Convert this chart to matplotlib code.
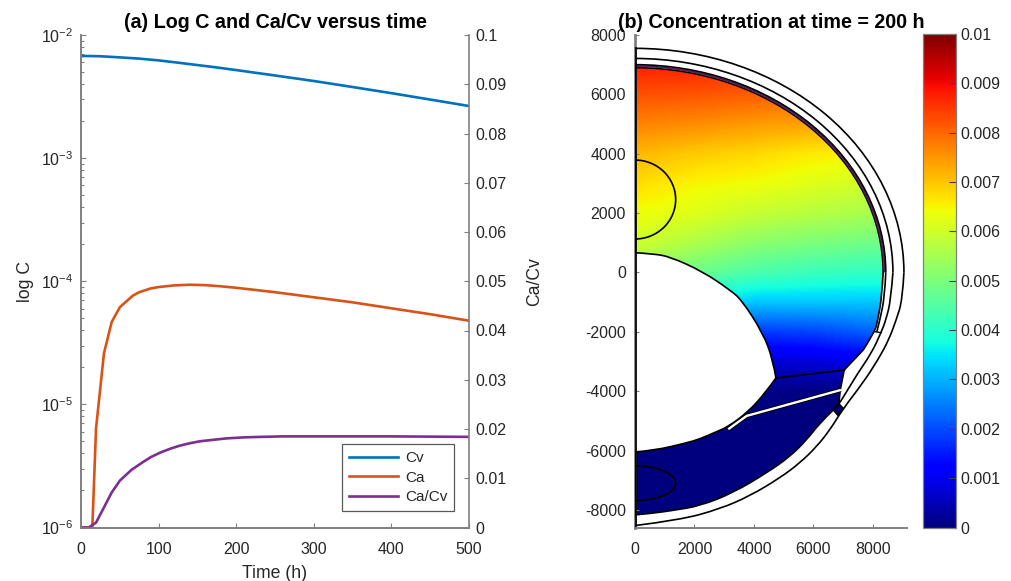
"""Two panel figure: log C and Ca/Cv versus time, concentration map at 200 h."""

import matplotlib
matplotlib.use('Agg')
import matplotlib.pyplot as plt
import numpy as np
from matplotlib.cm import ScalarMappable
from matplotlib.colors import Normalize
from matplotlib.patches import Arc, Ellipse, PathPatch, Polygon
from matplotlib.path import Path
from matplotlib.transforms import Affine2D

plt.rcParams['font.family'] = ['Liberation Sans', 'DejaVu Sans']
plt.rcParams['mathtext.default'] = 'regular'
plt.rcParams['axes.unicode_minus'] = False

# Panel (a) curves
CV_T = [0, 12, 25, 50, 75, 100, 125, 150, 175, 200, 250, 300, 350, 400, 450, 500]
CV = [0.00675, 0.00675, 0.00672, 0.00658, 0.00643, 0.00622, 0.00596, 0.00570,
      0.00545, 0.00519, 0.00469, 0.00423, 0.00378, 0.00337, 0.00299, 0.00265]
CA_T = [0, 14.6, 19.4, 29.6, 39.5, 50, 60, 67, 75, 90, 100, 120, 140, 160, 180,
        200, 250, 300, 350, 400, 450, 500]
CA = [1e-6, 1e-6, 6.4e-6, 2.6e-5, 4.66e-5, 6.15e-5, 7.0e-5, 7.65e-5, 8.15e-5,
      8.75e-5, 8.97e-5, 9.25e-5, 9.37e-5, 9.3e-5, 9.1e-5, 8.85e-5, 8.15e-5,
      7.41e-5, 6.74e-5, 6.03e-5, 5.4e-5, 4.78e-5]
RATIO_T = [0, 10, 19.4, 30, 39.5, 50, 65, 80, 90, 102, 115, 127, 140, 153, 170,
           188, 210, 231, 260, 300, 400, 500]
RATIO = [0, 0, 0.001, 0.0042, 0.0071, 0.0095, 0.0117, 0.0133, 0.0143, 0.0152,
         0.0160, 0.0166, 0.0171, 0.0175, 0.0178, 0.0181, 0.0183, 0.0184, 0.0185,
         0.0185, 0.0185, 0.0184]

TIME_TICKS = [0, 100, 200, 300, 400, 500]
RATIO_TICKS = [0, 0.01, 0.02, 0.03, 0.04, 0.05, 0.06, 0.07, 0.08, 0.09, 0.1]
RATIO_LABELS = ['0', '0.01', '0.02', '0.03', '0.04', '0.05', '0.06', '0.07',
                '0.08', '0.09', '0.1']

# Panel (b) concentration samples, 1e-3 units. Rows run from y=8000 down in
# steps of 1000, columns are x = 0, 2000, 4000, 6000, 8000.
FIELD = [
    [9.2, 9.2, 9.1, 9.1, 9.0],
    [8.75, 8.75, 8.65, 8.6, 8.5],
    [8.25, 8.2, 8.1, 8.0, 7.9],
    [7.7, 7.6, 7.45, 7.35, 7.25],
    [7.15, 6.95, 6.8, 6.6, 6.5],
    [6.75, 6.5, 6.4, 6.2, 6.0],
    [6.4, 6.2, 5.9, 5.7, 5.55],
    [6.0, 5.6, 5.2, 5.0, 4.85],
    [5.3, 4.8, 4.4, 4.2, 4.1],
    [4.2, 3.6, 3.2, 3.2, 3.2],
    [3.0, 2.3, 1.8, 1.9, 2.2],
    [1.5, 1.0, 0.7, 0.8, 1.0],
    [0.1, 0.1, 0.08, 0.05, 0.0],
    [0.0, 0.0, 0.0, 0.0, 0.0],
    [0.0, 0.0, 0.0, 0.0, 0.0],
    [0.0, 0.0, 0.0, 0.0, 0.0],
    [0.0, 0.0, 0.0, 0.0, 0.0],
    [0.0, 0.0, 0.0, 0.0, 0.0],
]
MAP_X_TICKS = [0, 2000, 4000, 6000, 8000]
MAP_Y_TICKS = [-8000, -6000, -4000, -2000, 0, 2000, 4000, 6000, 8000]
BAR_TICKS = [0, 0.001, 0.002, 0.003, 0.004, 0.005, 0.006, 0.007, 0.008, 0.009, 0.01]
BAR_LABELS = ['0', '0.001', '0.002', '0.003', '0.004', '0.005', '0.006',
              '0.007', '0.008', '0.009', '0.01']

# Geometry of the model, in map units
OUTER_RADII = (9040, 7550)
SECOND_RADII = (8670, 7210)
BAND_RADII = (8430, 7000)
FILL_RADII = (8340, 6900)

OUTER_LOW_X = [9040, 8990, 8780, 8530, 8165, 7661, 6989, 6552, 6105, 5544,
               4872, 3864, 2856, 1512, 0]
OUTER_LOW_Y = [0, -926, -1600, -2273, -2946, -3720, -4596, -5303, -5865, -6414,
               -6919, -7525, -7963, -8337, -8525]
SECOND_LOW_X = [8670, 8600, 8434, 8270, 7953, 7493, 6945, 6854]
SECOND_LOW_Y = [0, -926, -1600, -2027, -2710, -3384, -4293, -4428]
CAVITY_TOP_X = [0, 600, 1176, 2285, 3192, 3585, 4301, 4637, 4737]
CAVITY_TOP_Y = [667, 630, 532, 27, -589, -926, -2040, -2946, -3555]
CAVITY_LOW_X = [4737, 4368, 3807, 3135, 2745, 2184, 1737, 615, 0]
CAVITY_LOW_Y = [-3555, -4068, -4688, -5192, -5360, -5606, -5741, -6000, -6044]
FILL_LOW_X = [0, 605, 1300, 2184, 3293, 4425, 5208, 5769, 6216, 6609]
FILL_LOW_Y = [-8165, -8110, -8010, -7862, -7424, -6751, -6202, -5640, -5067, -4687]
NOTCH_X = [6664, 6864, 6999, 6810]
NOTCH_Y = [-4630, -4439, -4574, -4798]
WEDGE_X = [6854, 6900, 7033, 7672, 8064, 8160, 8300, 8340]
WEDGE_Y = [-4404, -3950, -3284, -2609, -1993, -1600, -800, 0]
BAND_LOW_X = [8430, 8395, 8232, 8130]
BAND_LOW_Y = [0, -800, -1600, -1993]
DIVIDER_X = [4737, 7033]
DIVIDER_Y = [-3555, -3284]
SLIT_X = [3135, 3753, 6922]
SLIT_Y = [-5279, -4831, -3956]
CAP_X = [8064, 8270]
CAP_Y = [-1993, -2027]
UPPER_SPOT = (0, 2458, 1367, 1330)
LOWER_SPOT = (0, -7099, 1367, 584)

SPINE = '#808080'
TEXT = '#262626'
BLACK = '#000000'


def px_rect(left, top, right, bottom):
    """Axes rectangle from pixel edges of the 1011x581 figure."""
    return [left / 1011, 1 - bottom / 581, (right - left) / 1011, (bottom - top) / 581]


def style_axis(ax, length=3.6):
    ax.tick_params(which='both', direction='in', colors=SPINE, labelcolor=TEXT,
                   labelsize=11.5, width=0.8, length=length)
    for spine in ax.spines.values():
        spine.set_color(SPINE)
        spine.set_linewidth(1.2)


def upper_arc(ax, radii, color=BLACK, lw=1.2):
    ax.add_patch(Arc((0, 0), 2 * radii[0], 2 * radii[1], theta1=0, theta2=90,
                     color=color, lw=lw, zorder=4))


def smooth_segment(xs, ys):
    """Quadratic Bezier pieces with the listed points as control points."""
    pts = np.column_stack([xs, ys]).astype(float)
    verts = [pts[0]]
    codes = [Path.LINETO]
    for i in range(1, len(pts) - 1):
        end = pts[-1] if i == len(pts) - 2 else (pts[i] + pts[i + 1]) / 2
        verts += [pts[i], end]
        codes += [Path.CURVE3, Path.CURVE3]
    return verts, codes


def smooth_line(ax, xs, ys, lw=1.2):
    verts, codes = smooth_segment(xs, ys)
    codes[0] = Path.MOVETO
    ax.add_patch(PathPatch(Path(verts, codes), fc='none', ec=BLACK, lw=lw, zorder=4))


def fill_path():
    arc = Path.arc(0, 90).transformed(Affine2D().scale(*FILL_RADII))
    verts = list(arc.vertices)
    codes = list(arc.codes)
    pieces = [(CAVITY_TOP_X, CAVITY_TOP_Y), (CAVITY_LOW_X, CAVITY_LOW_Y),
              (FILL_LOW_X, FILL_LOW_Y)]
    for xs, ys in pieces:
        piece_verts, piece_codes = smooth_segment(xs, ys)
        verts += piece_verts
        codes += piece_codes
    verts += list(np.column_stack([WEDGE_X[:3], WEDGE_Y[:3]]).astype(float))
    codes += [Path.LINETO] * 3
    piece_verts, piece_codes = smooth_segment(WEDGE_X[3:], WEDGE_Y[3:])
    verts += piece_verts
    codes += piece_codes
    return Path(verts, codes)


def plot_time_panel(fig):
    ax = fig.add_axes(px_rect(81, 35, 469, 527.5))
    ax.semilogy(CV_T, CV, color='#0072BD', lw=1.9, label='Cv')
    ax.semilogy(CA_T, CA, color='#D95319', lw=1.9, label='Ca')
    ax.set_xlim(0, 500)
    ax.set_ylim(1e-6, 1e-2)
    ax.set_xticks(TIME_TICKS)
    ax.set_xlabel('Time (h)', fontsize=12.7, color=TEXT, labelpad=6)
    ax.set_ylabel('log C', fontsize=12.7, color=TEXT, labelpad=5)
    ax.set_title('(a) Log C and Ca/Cv versus time', fontsize=14.2,
                 fontweight='bold', color=BLACK, pad=5)
    style_axis(ax)
    ax.tick_params(axis='x', pad=10.5)
    ax.tick_params(axis='y', which='major', pad=5.5)
    ax.spines['top'].set_visible(False)
    ax.spines['right'].set_visible(False)
    ax.tick_params(which='minor', length=2)

    right = ax.twinx()
    line, = right.plot(RATIO_T, RATIO, color='#7E2F8E', lw=1.9, label='Ca/Cv')
    right.set_ylim(0, 0.1)
    right.set_yticks(RATIO_TICKS, RATIO_LABELS)
    right.set_ylabel('Ca/Cv', fontsize=12.7, color=TEXT, labelpad=14)
    style_axis(right)
    right.tick_params(axis='y', pad=4.5)
    right.spines['top'].set_visible(False)

    handles = ax.get_lines() + [line]
    leg = right.legend(handles, [h.get_label() for h in handles],
                       loc='lower left', bbox_to_anchor=(0.6735, 0.0335),
                       borderaxespad=0, fontsize=11, fancybox=False, framealpha=1,
                       edgecolor='#595959', handlelength=3.2, labelspacing=0.36,
                       borderpad=0.45, handletextpad=0.45)
    leg.get_frame().set_linewidth(0.9)
    for text in leg.get_texts():
        text.set_color(TEXT)


def plot_map_panel(fig):
    ax = fig.add_axes(px_rect(635, 35, 907, 527.5))

    values = np.array(FIELD) * 1e-3
    im = ax.imshow(values, cmap='jet', vmin=0, vmax=0.01, aspect='auto',
                   interpolation='bilinear', origin='upper',
                   extent=(-1000, 9000, -9500, 8500), zorder=1)
    ax.set_xlim(0, 9143)
    ax.set_ylim(-8590, 8000)
    boundary = PathPatch(fill_path(), fc='none', ec=BLACK, lw=1.2, zorder=4)
    ax.add_patch(boundary)
    im.set_clip_path(boundary)

    # shell lines
    upper_arc(ax, OUTER_RADII)
    upper_arc(ax, SECOND_RADII)
    upper_arc(ax, ((BAND_RADII[0] + FILL_RADII[0]) / 2, (BAND_RADII[1] + FILL_RADII[1]) / 2),
              color='#5a1e5a', lw=1.4)
    upper_arc(ax, BAND_RADII)
    smooth_line(ax, OUTER_LOW_X, OUTER_LOW_Y)
    smooth_line(ax, SECOND_LOW_X, SECOND_LOW_Y)
    smooth_line(ax, BAND_LOW_X, BAND_LOW_Y)
    ax.plot(CAP_X, CAP_Y, color=BLACK, lw=1.0, zorder=4)
    ax.plot(DIVIDER_X, DIVIDER_Y, color=BLACK, lw=1.3, zorder=4)

    # slit through the lower part
    ax.plot(SLIT_X, SLIT_Y, color=BLACK, lw=3.0, zorder=5, solid_capstyle='butt')
    ax.plot(SLIT_X, SLIT_Y, color='white', lw=1.7, zorder=6, solid_capstyle='butt')

    ax.add_patch(Polygon(np.column_stack([NOTCH_X, NOTCH_Y]), closed=True,
                         fc='#000080', ec=BLACK, lw=1.2, zorder=5))
    for spot in (UPPER_SPOT, LOWER_SPOT):
        ax.add_patch(Ellipse(spot[:2], 2 * spot[2], 2 * spot[3], fc='none',
                             ec=BLACK, lw=1.2, zorder=4))
    ax.plot([30, 30], [OUTER_RADII[1], OUTER_LOW_Y[-1]], color=BLACK, lw=1.2,
            zorder=7, clip_on=False)

    ax.set_xticks(MAP_X_TICKS)
    ax.set_yticks(MAP_Y_TICKS)
    style_axis(ax, length=3)
    ax.tick_params(axis='x', pad=10.5)
    ax.tick_params(axis='y', pad=6.5)
    ax.spines['top'].set_visible(False)
    ax.spines['right'].set_visible(False)
    ax.spines['left'].set_linewidth(2.0)
    ax.spines['bottom'].set_linewidth(1.4)
    ax.set_title('(b) Concentration at time = 200 h', fontsize=14.2,
                 fontweight='bold', color=BLACK, pad=5)

    cax = fig.add_axes(px_rect(922.7, 34, 955.7, 527.5))
    bar = fig.colorbar(ScalarMappable(Normalize(0, 0.01), cmap='jet'), cax=cax)
    bar.set_ticks(BAR_TICKS, labels=BAR_LABELS)
    bar.outline.set_edgecolor(SPINE)
    bar.outline.set_linewidth(0.9)
    cax.tick_params(direction='in', length=5, width=0.8, color='#404040',
                    labelcolor=TEXT, labelsize=11.5)


def main():
    fig = plt.figure(figsize=(10.11, 5.81), dpi=100)
    plot_time_panel(fig)
    plot_map_panel(fig)
    fig.savefig('out.png', dpi=100)
    plt.close(fig)


if __name__ == '__main__':
    main()
